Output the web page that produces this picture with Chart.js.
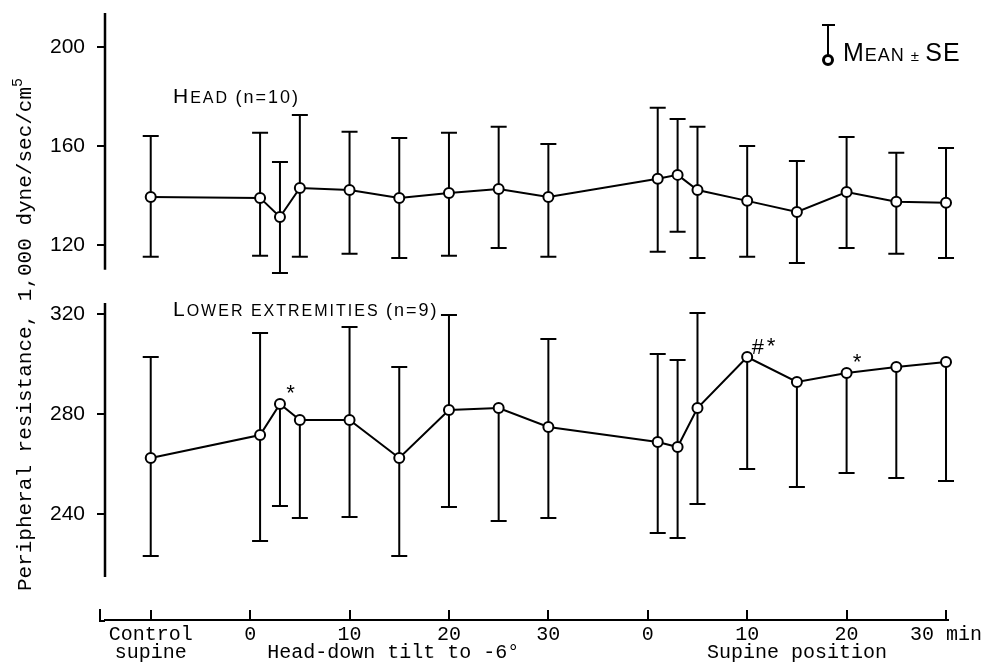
<!DOCTYPE html>
<html>
<head>
<meta charset="utf-8">
<script src="https://cdn.jsdelivr.net/npm/chart.js@4.4.1/dist/chart.umd.min.js"></script>
<style>
  html, body { margin: 0; padding: 0; background: #fff; }
  #chart { display: block; }
</style>
</head>
<body>
<canvas id="chart" width="994" height="667"></canvas>
<script>
// minutes in each period; the supine period is drawn 40 min to the right of tilt start
const controlTime = -10;
const tiltTimes = [1, 3, 5, 10, 15, 20, 25, 30];
const supineTimes = [1, 3, 5, 10, 15, 20, 25, 30];
const supineShift = 40;

// head (n=10)
const headMean = [139.4, 139.0, 131.3, 143.0, 142.2, 139.0, 141.0, 142.6, 139.4, 146.7, 148.3, 142.2, 137.8, 133.3, 141.4, 137.4, 137.0];
const headHigh = [164.0, 165.3, 153.5, 172.5, 165.7, 163.2, 165.3, 167.7, 160.8, 175.4, 170.9, 167.7, 160.0, 153.9, 163.6, 157.2, 159.2];
const headLow = [115.2, 115.6, 108.7, 115.2, 116.4, 114.7, 115.6, 118.8, 115.2, 117.2, 125.3, 114.7, 115.2, 112.7, 118.8, 116.4, 114.7];

// lower extremities (n=9); null = bar not drawn in the original
const legMean = [262.4, 271.6, 284.0, 277.6, 277.6, 262.4, 281.6, 282.4, 274.8, 268.8, 266.8, 282.4, 302.8, 292.8, 296.4, 298.8, 300.8];
const legHigh = [302.8, 312.4, null, null, 314.8, 298.8, 319.6, null, 310.0, 304.0, 301.6, 320.4, null, null, null, null, null];
const legLow = [223.2, 229.2, 243.2, 238.4, 238.8, 223.2, 242.8, 237.2, 238.4, 232.4, 230.4, 244.0, 258.0, 250.8, 256.4, 254.4, 253.2];

const legMarkIndex = [2, 12, 14];
const legMarkText = ["*", "#*", "*"];

const xTickValues = [-10, 0, 10, 20, 30, 40, 50, 60, 70];
const xTickLabels = [["Control", "supine"], "0", "10", "20", "30", "0", "10", "20", "30 min"];
const groupLabels = ["Head-down tilt to -6°", "Supine position"];
const groupCenters = [14.4, 55];

const headTicks = [120, 160, 200];
const legTicks = [240, 280, 320];
const headAxisSpan = [110, 213.7];
const legAxisSpan = [214.8, 324.4];

const xValues = [controlTime, ...tiltTimes, ...supineTimes.map((t) => t + supineShift)];
const toPoints = (values) => values.map((v, i) => ({ x: xValues[i], y: v }));

const SANS = '"Liberation Sans", Arial, sans-serif';
const MONO = '"Liberation Mono", "Courier New", monospace';

const errorBars = {
  id: "errorBars",
  beforeDatasetsDraw(chart) {
    const { ctx, scales } = chart;
    const panels = [
      ["yHead", headMean, headHigh, headLow],
      ["yLeg", legMean, legHigh, legLow],
    ];
    ctx.save();
    ctx.strokeStyle = "#000";
    ctx.lineWidth = 2;
    panels.forEach(([axis, means, highs, lows]) => {
      const y = scales[axis];
      means.forEach((m, i) => {
        const px = scales.x.getPixelForValue(xValues[i]);
        const mid = y.getPixelForValue(m);
        [highs[i], lows[i]].forEach((v) => {
          if (v == null) return;
          const end = y.getPixelForValue(v);
          ctx.beginPath();
          ctx.moveTo(px, mid);
          ctx.lineTo(px, end);
          ctx.moveTo(px - 8, end);
          ctx.lineTo(px + 8, end);
          ctx.stroke();
        });
      });
    });
    ctx.restore();
  },
};

function drawPieces(ctx, pieces, x, y) {
  pieces.forEach(([text, size]) => {
    ctx.font = `${size}px ${SANS}`;
    ctx.fillText(text, x, y);
    x += ctx.measureText(text).width;
  });
}

const decorations = {
  id: "decorations",
  afterDraw(chart) {
    const { ctx, scales, chartArea } = chart;
    const x = scales.x;
    ctx.save();
    ctx.fillStyle = "#000";
    ctx.strokeStyle = "#000";

    // broken y axis lines
    ctx.lineWidth = 2.5;
    ctx.beginPath();
    ctx.moveTo(chartArea.left, scales.yHead.getPixelForValue(headAxisSpan[1]));
    ctx.lineTo(chartArea.left, scales.yHead.getPixelForValue(headAxisSpan[0]));
    ctx.moveTo(chartArea.left, scales.yLeg.getPixelForValue(legAxisSpan[1]));
    ctx.lineTo(chartArea.left, scales.yLeg.getPixelForValue(legAxisSpan[0]));
    ctx.stroke();

    // little corner at the start of the time axis
    ctx.lineWidth = 2;
    ctx.beginPath();
    ctx.moveTo(chartArea.left, chartArea.bottom + 1);
    ctx.lineTo(chartArea.left - 5, chartArea.bottom + 1);
    ctx.lineTo(chartArea.left - 5, chartArea.bottom - 11);
    ctx.stroke();

    // y title
    const title = "Peripheral resistance, 1,000 dyne/sec/cm";
    ctx.translate(25, 334);
    ctx.rotate(-Math.PI / 2);
    ctx.font = `21px ${MONO}`;
    ctx.textBaseline = "middle";
    const w = ctx.measureText(title).width;
    ctx.fillText(title, -w / 2 - 5, 0);
    ctx.font = `15px ${MONO}`;
    ctx.fillText("5", w / 2 - 5, -7);
    ctx.setTransform(1, 0, 0, 1, 0, 0);

    // group labels under the time axis
    ctx.font = `20px ${MONO}`;
    ctx.textAlign = "center";
    ctx.textBaseline = "middle";
    groupLabels.forEach((label, i) => {
      ctx.fillText(label, x.getPixelForValue(groupCenters[i]), chartArea.bottom + 33);
    });

    // significance marks
    ctx.textAlign = "left";
    ctx.font = `22px ${MONO}`;
    legMarkIndex.forEach((idx, i) => {
      const px = x.getPixelForValue(xValues[idx]);
      const py = scales.yLeg.getPixelForValue(legMean[idx]);
      ctx.fillText(legMarkText[i], px + 4, py - 9);
    });

    // panel labels in small caps
    ctx.textBaseline = "alphabetic";
    ctx.letterSpacing = "2px";
    drawPieces(ctx, [["H", 21], ["EAD ", 16], ["(n=10)", 18]], 173, 103);
    drawPieces(ctx, [["L", 21], ["OWER EXTREMITIES ", 16], ["(n=9)", 18]], 173, 316);

    // key
    ctx.letterSpacing = "1px";
    drawPieces(ctx, [["M", 25], ["EAN ", 18], ["± ", 15], ["SE", 25]], 843, 61);
    ctx.letterSpacing = "0px";
    ctx.lineWidth = 2;
    ctx.beginPath();
    ctx.moveTo(828, 25);
    ctx.lineTo(828, 56);
    ctx.moveTo(822, 25);
    ctx.lineTo(835, 25);
    ctx.stroke();
    ctx.lineWidth = 3;
    ctx.fillStyle = "#fff";
    ctx.beginPath();
    ctx.arc(828, 60, 4.5, 0, Math.PI * 2);
    ctx.fill();
    ctx.stroke();

    ctx.restore();
  },
};

const lineStyle = {
  borderColor: "#000",
  borderWidth: 2,
  pointRadius: 5,
  pointBackgroundColor: "#fff",
  pointBorderColor: "#000",
  pointBorderWidth: 2,
  tension: 0,
  clip: false,
};

const yAxis = (min, max, weight, ticks) => ({
  type: "linear",
  position: "left",
  stack: "panels",
  stackWeight: weight,
  min,
  max,
  border: { display: false },
  grid: { drawOnChartArea: false, drawTicks: true, tickLength: 8, lineWidth: 2, color: "#000" },
  ticks: { color: "#000", padding: 12, font: { family: SANS, size: 21 } },
  afterBuildTicks: (scale) => {
    scale.ticks = ticks.map((v) => ({ value: v }));
  },
  afterFit: (scale) => {
    scale.width = 55;
    scale.paddingTop = 0;
    scale.paddingBottom = 0;
  },
});

new Chart("chart", {
  type: "line",
  data: {
    datasets: [
      { label: "Head", data: toPoints(headMean), yAxisID: "yHead", ...lineStyle },
      { label: "Lower extremities", data: toPoints(legMean), yAxisID: "yLeg", ...lineStyle },
    ],
  },
  options: {
    responsive: false,
    animation: false,
    layout: { padding: { left: 50, right: 46, top: 13, bottom: 0 } },
    plugins: {
      legend: { display: false },
      tooltip: { enabled: false },
    },
    scales: {
      x: {
        type: "linear",
        position: "bottom",
        min: -14.6,
        max: 70.2,
        border: { display: true, color: "#000", width: 2 },
        grid: { drawOnChartArea: false, drawTicks: true, tickLength: -10, lineWidth: 2, color: "#000" },
        ticks: {
          color: "#000",
          padding: 16,
          maxRotation: 0,
          autoSkip: false,
          font: { family: MONO, size: 20, lineHeight: 0.9 },
          callback: (value, index) => xTickLabels[index],
        },
        afterBuildTicks: (scale) => {
          scale.ticks = xTickValues.map((v) => ({ value: v }));
        },
        afterFit: (scale) => {
          scale.height = 47;
          scale.paddingLeft = 0;
          scale.paddingRight = 0;
        },
      },
      yLeg: yAxis(197.6, 330.8, 333, legTicks),
      yHead: yAxis(103.0, 213.7, 274, headTicks),
    },
  },
  plugins: [errorBars, decorations],
});
</script>
</body>
</html>
